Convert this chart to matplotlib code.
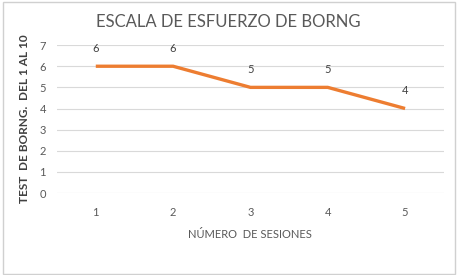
import matplotlib
matplotlib.use("Agg")
import matplotlib.pyplot as plt
from matplotlib.patches import Rectangle

sesiones = ["1", "2", "3", "4", "5"]
valores = [6, 6, 5, 5, 4]
yticks = [0, 1, 2, 3, 4, 5, 6, 7]

GRIS = "#595959"
plt.rcParams["font.family"] = ["Lato", "DejaVu Sans"]

fig = plt.figure(figsize=(4.57, 2.75), dpi=100)
fig.patches.append(Rectangle((0.006, 0.004), 0.989, 0.99, transform=fig.transFigure,
                             fill=False, edgecolor="#d0d0d0", lw=1))
ax = fig.add_axes([0.125, 0.298, 0.846, 0.538])

x = list(range(len(sesiones)))
ax.plot(x, valores, color="#ED7D31", lw=2.4, solid_capstyle="butt")
for xi, v in zip(x, valores):
    ax.annotate(str(v), (xi, v), xytext=(0, 13), textcoords="offset points",
                ha="center", va="center", fontsize=8, color="#404040")

ax.set_xlim(-0.5, len(sesiones) - 0.5)
ax.set_ylim(0, 7)
ax.set_yticks(yticks)
ax.set_xticks(x)
ax.set_xticklabels(sesiones)
ax.tick_params(length=0, colors=GRIS, labelsize=8)
ax.tick_params(axis="x", pad=10)
ax.tick_params(axis="y", pad=8)
ax.grid(axis="y", color="#d9d9d9", lw=0.8)
ax.set_axisbelow(True)
for s in ax.spines.values():
    s.set_visible(False)

ax.set_xlabel("NÚMERO  DE SESIONES", fontsize=8, color=GRIS, labelpad=8)
ax.set_ylabel("TEST  DE BORNG.  DEL 1 AL 10", fontsize=8.5, color="#404040",
              fontweight="bold", labelpad=7)
fig.text(0.5, 0.92, "ESCALA DE ESFUERZO DE BORNG", ha="center", va="center",
         fontsize=12, color=GRIS)

fig.savefig("out.png", dpi=100)
